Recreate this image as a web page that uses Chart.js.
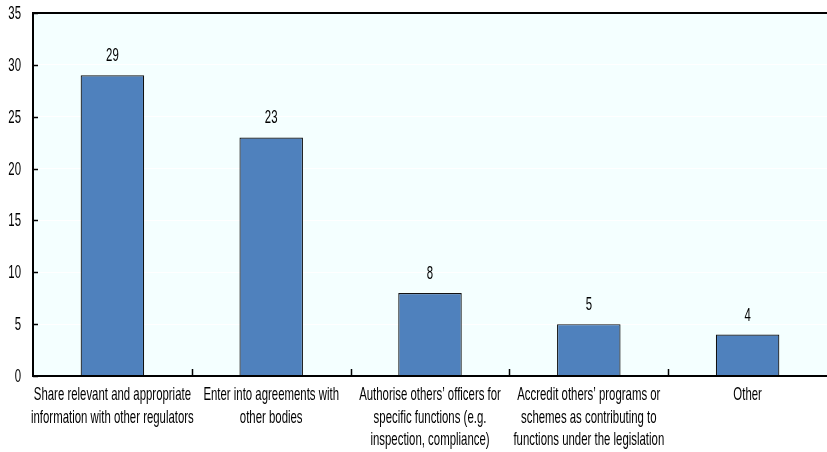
<!DOCTYPE html>
<html>
<head>
<meta charset="utf-8">
<script src="https://cdn.jsdelivr.net/npm/chart.js@4/dist/chart.umd.min.js"></script>
<style>
html,body{margin:0;padding:0;background:#ffffff;}
#wrap{position:relative;width:827px;height:452px;}
</style>
</head>
<body>
<div id="wrap"><canvas id="c" width="827" height="452"></canvas></div>
<script>
const categories = [
  ["Share relevant and appropriate", "information with other regulators"],
  ["Enter into agreements with", "other bodies"],
  ["Authorise others\u2019 officers for", "specific functions (e.g.", "inspection, compliance)"],
  ["Accredit others\u2019 programs or", "schemes as contributing to", "functions under the legislation"],
  ["Other"]
];
const values = [29, 23, 8, 5, 4];
const yTickValues = [0, 5, 10, 15, 20, 25, 30, 35];

const FONT = "'Liberation Sans', Arial, sans-serif";
const FSIZE = 19;
const SQUEEZE = 0.6;   // condensed look (Arial Narrow-like)
const LINE_GAP = 22.5;

function narrowText(ctx, text, x, y, align) {
  ctx.save();
  ctx.translate(x, y);
  ctx.scale(SQUEEZE, 1);
  ctx.textAlign = align;
  ctx.fillText(text, 0, 0);
  ctx.restore();
}

const deco = {
  id: 'deco',
  beforeDraw(chart) {
    const {ctx, chartArea: a} = chart;
    ctx.save();
    ctx.fillStyle = '#F4FFFF';
    ctx.fillRect(a.left, a.top, a.right - a.left, a.bottom - a.top);
    ctx.restore();
  },
  afterDatasetsDraw(chart) {
    const {ctx, chartArea: a, scales} = chart;
    const x = scales.x, y = scales.y;
    ctx.save();
    ctx.strokeStyle = '#000000';
    ctx.lineWidth = 2;
    ctx.beginPath(); ctx.moveTo(a.left, a.top); ctx.lineTo(a.right, a.top); ctx.stroke();
    ctx.beginPath(); ctx.moveTo(a.left, a.top - 1); ctx.lineTo(a.left, a.bottom + 1); ctx.stroke();
    ctx.beginPath(); ctx.moveTo(a.left - 1, a.bottom); ctx.lineTo(a.right, a.bottom); ctx.stroke();
    ctx.lineWidth = 1.5;
    y.ticks.forEach(t => {
      const py = Math.round(y.getPixelForValue(t.value)) + 0.5;
      ctx.beginPath(); ctx.moveTo(a.left, py); ctx.lineTo(a.left + 5, py); ctx.stroke();
    });
    const n = x.getLabels().length;
    for (let i = 0; i < n - 1; i++) {
      const px = Math.round((x.getPixelForValue(i) + x.getPixelForValue(i + 1)) / 2) + 0.5;
      ctx.beginPath(); ctx.moveTo(px, a.bottom); ctx.lineTo(px, a.bottom - 7); ctx.stroke();
    }

    ctx.fillStyle = '#000000';
    ctx.font = FSIZE + 'px ' + FONT;
    ctx.textBaseline = 'alphabetic';

    // y tick labels
    y.ticks.forEach(t => {
      narrowText(ctx, String(t.value), a.left - 12, y.getPixelForValue(t.value) + 6, 'right');
    });

    // x category labels
    x.getLabels().forEach((lab, i) => {
      const cx = x.getPixelForValue(i);
      const lines = Array.isArray(lab) ? lab : [lab];
      lines.forEach((ln, j) => {
        narrowText(ctx, ln, cx, a.bottom + 24 + j * LINE_GAP, 'center');
      });
    });

    // data labels
    const meta = chart.getDatasetMeta(0);
    meta.data.forEach((bar, i) => {
      narrowText(ctx, String(values[i]), bar.x, bar.y - 14, 'center');
    });
    ctx.restore();
  }
};

new Chart(document.getElementById('c'), {
  type: 'bar',
  data: {
    labels: categories,
    datasets: [{
      data: values,
      backgroundColor: '#4F81BD',
      borderColor: '#111111',
      borderWidth: 1.2,
      borderSkipped: 'bottom',
      categoryPercentage: 0.4,
      barPercentage: 1.0
    }]
  },
  options: {
    responsive: false,
    animation: false,
    devicePixelRatio: 1,
    layout: {padding: {top: 13, right: 0, left: 0, bottom: 0}},
    plugins: {legend: {display: false}, tooltip: {enabled: false}},
    scales: {
      x: {
        grid: {display: false, drawTicks: false},
        border: {display: false},
        ticks: {display: false},
        afterFit(s) { s.height = 76; s.paddingLeft = 0; s.paddingRight = 0; }
      },
      y: {
        min: 0, max: 35,
        grid: {color: '#FFFFFF', lineWidth: 1, drawTicks: false},
        border: {display: false},
        ticks: {display: false, stepSize: 5},
        afterBuildTicks(s) { s.ticks = yTickValues.map(v => ({value: v})); },
        afterFit(s) { s.width = 33; s.paddingTop = 0; s.paddingBottom = 0; }
      }
    }
  },
  plugins: [deco]
});
</script>
</body>
</html>
